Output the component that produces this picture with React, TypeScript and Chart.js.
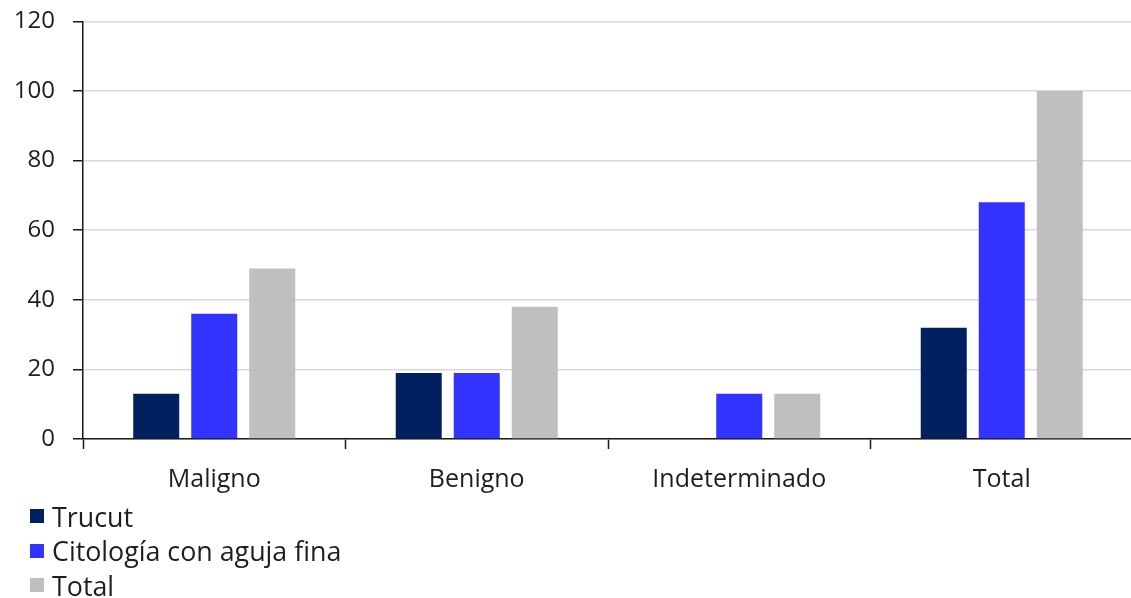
import React, { useEffect, useRef } from "react";
import { Chart, registerables } from "chart.js";

Chart.register(...registerables);

const categories = ["Maligno", "Benigno", "Indeterminado", "Total"];
const trucut = [13, 19, 0, 32];
const citologia = [36, 19, 13, 68];
const totalSeries = [49, 38, 13, 100];
const seriesNames = ["Trucut", "Citología con aguja fina", "Total"];
const seriesColors = ["#002060", "#3333FF", "#BFBFBF"];
const yMin = 0;
const yMax = 120;
const yStep = 20;

const FONT = "'Open Sans', sans-serif";

export default function App() {
  const canvasRef = useRef<HTMLCanvasElement | null>(null);

  useEffect(() => {
    const canvas = canvasRef.current;
    if (!canvas) return;
    const values = [trucut, citologia, totalSeries];
    const chart = new Chart(canvas, {
      type: "bar",
      data: {
        labels: categories,
        datasets: values.map((v, i) => ({
          label: seriesNames[i],
          data: v,
          backgroundColor: seriesColors[i],
          borderWidth: 0,
          categoryPercentage: 0.663,
          barPercentage: 0.793,
        })),
      },
      options: {
        animation: false,
        responsive: false,
        devicePixelRatio: 1,
        layout: { padding: { top: 10, right: 7, left: 0, bottom: 0 } },
        plugins: {
          legend: { display: false },
          tooltip: { enabled: false },
        },
        scales: {
          x: {
            afterFit: (scale: any) => {
              scale.height = 61;
            },
            grid: {
              display: true,
              drawOnChartArea: false,
              drawTicks: true,
              tickLength: 10,
              tickColor: "#1a1a1a",
              tickWidth: 1.5,
              offset: true,
            },
            border: { display: true, color: "#1a1a1a", width: 1.5 },
            ticks: {
              padding: 16,
              color: "#1e1e1e",
              font: { family: FONT, size: 25 },
              maxRotation: 0,
            },
          },
          y: {
            min: yMin,
            max: yMax,
            afterFit: (scale: any) => {
              scale.width = 83;
            },
            grid: {
              color: "#d9d9d9",
              lineWidth: 1.5,
              drawTicks: true,
              tickLength: 10,
              tickColor: "#1a1a1a",
              tickWidth: 1.5,
            },
            border: { display: true, color: "#1a1a1a", width: 1.5 },
            ticks: {
              stepSize: yStep,
              padding: 18,
              color: "#1e1e1e",
              font: { family: FONT, size: 24 },
            },
          },
        },
      },
    });
    return () => chart.destroy();
  }, []);

  return (
    <div
      style={{
        position: "fixed",
        left: 0,
        top: 0,
        width: 1131,
        height: 598,
        overflow: "hidden",
        background: "#fff",
      }}
    >
      <canvas
        ref={canvasRef}
        width={1140}
        height={511}
        style={{ display: "block", width: 1140, height: 511, marginTop: -11 }}
      />
      {seriesNames.map((name, i) => (
        <div
          key={name}
          style={{
            position: "absolute",
            left: 30,
            top: 516 + i * 34.5 - 17,
            height: 34,
            display: "flex",
            alignItems: "center",
            fontFamily: FONT,
            fontSize: 26.8,
            color: "#1e1e1e",
            whiteSpace: "nowrap",
          }}
        >
          <span
            style={{
              display: "inline-block",
              width: 14,
              height: 14,
              background: seriesColors[i],
              marginRight: 8,
            }}
          />
          <span>{name}</span>
        </div>
      ))}
    </div>
  );
}
